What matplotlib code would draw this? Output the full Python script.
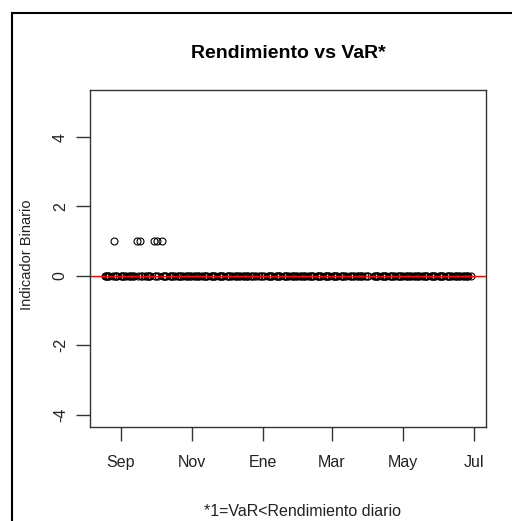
import matplotlib
matplotlib.use("Agg")
import matplotlib.pyplot as plt
import matplotlib.dates as mdates
from matplotlib.lines import Line2D
import numpy as np
import pandas as pd

plt.rcParams['font.family'] = ['Liberation Sans', 'DejaVu Sans']

# Trading days covered by the backtest
start_date = "2014-08-18"
end_date = "2015-06-29"
market_holidays = ["2014-12-25", "2015-01-01", "2015-03-16", "2015-04-02", "2015-04-03"]

# Days on which the VaR was below the daily return (indicator = 1)
breach_dates = ["2014-08-26", "2014-09-15", "2014-09-17",
                "2014-09-29", "2014-10-02", "2014-10-06"]

month_ticks = ["2014-09-01", "2014-11-01", "2015-01-01",
               "2015-03-01", "2015-05-01", "2015-07-01"]
month_labels = ["Sep", "Nov", "Ene", "Mar", "May", "Jul"]

title = "Rendimiento vs VaR*"
ylabel = "Indicador Binario"
footnote = "*1=VaR<Rendimiento diario"

days = pd.bdate_range(start_date, end_date)
days = days[~days.isin(pd.to_datetime(market_holidays))]
indicator = pd.Series(0, index=days)
indicator[pd.to_datetime(breach_dates)] = 1

W, H = 512, 521
fig = plt.figure(figsize=(W / 100, H / 100), dpi=100)

# outer frame (top and left edges)
fig.add_artist(Line2D([11.5 / W, 11.5 / W], [0, 1 - 12.5 / H], color='black', lw=1.5))
fig.add_artist(Line2D([11.5 / W, 1], [1 - 12.5 / H, 1 - 12.5 / H], color='black', lw=1.5))

L, R, T, B = 90, 486, 90, 427
ax = fig.add_axes([L / W, 1 - B / H, (R - L) / W, (B - T) / H])

x = mdates.date2num(indicator.index.to_pydatetime())
ax.plot(x, indicator.values, linestyle='none', marker='o', markersize=5,
        markerfacecolor='none', markeredgecolor='black', markeredgewidth=0.8)
ax.axhline(0, color='red', lw=1)

xr = x.max() - x.min()
ax.set_xlim(x.min() - 0.04 * xr, x.max() + 0.04 * xr)
ax.set_ylim(-4 - 0.36, 5 + 0.36)

ax.set_xticks(mdates.date2num(pd.to_datetime(month_ticks).to_pydatetime()))
ax.set_xticklabels(month_labels)
ax.set_yticks([-4, -2, 0, 2, 4])
ax.set_yticklabels(["-4", "-2", "0", "2", "4"], rotation=90, va='center')

for s in ax.spines.values():
    s.set_color('#333333')
    s.set_linewidth(1)
ax.tick_params(axis='both', length=10, width=1, color='#333333', labelsize=11.5, labelcolor='#222222')
ax.tick_params(axis='x', pad=10)
ax.tick_params(axis='y', pad=6)

fig.text((L + R) / 2 / W, 1 - 53 / H, title, ha='center', va='center',
         fontsize=14, fontweight='bold')
fig.text(27 / W, 1 - 255 / H, ylabel, ha='center', va='center', rotation=90,
         fontsize=10.5, color='#222222')
fig.text(303 / W, 1 - 519.5 / H, footnote, ha='center', va='bottom',
         fontsize=11.5, color='#222222')

fig.savefig("out.png", dpi=100)
